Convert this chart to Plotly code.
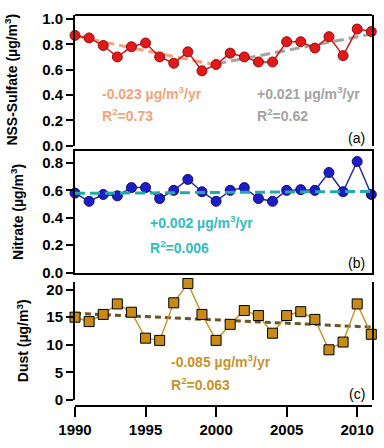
import plotly.graph_objects as go

years = list(range(1990, 2012))

sulfate = [0.87, 0.85, 0.79, 0.70, 0.78, 0.81, 0.70, 0.65, 0.74, 0.59, 0.64,
           0.73, 0.70, 0.66, 0.66, 0.82, 0.82, 0.77, 0.86, 0.71, 0.92, 0.90]
nitrate = [0.58, 0.52, 0.57, 0.56, 0.62, 0.62, 0.54, 0.60, 0.68, 0.59, 0.52,
           0.60, 0.62, 0.54, 0.52, 0.60, 0.605, 0.60, 0.73, 0.59, 0.81, 0.57]
dust = [15.0, 14.2, 15.5, 17.4, 15.9, 11.2, 10.8, 17.6, 21.1, 15.5, 10.8,
        13.7, 16.2, 15.3, 12.1, 15.3, 16.0, 14.6, 9.1, 10.5, 17.4, 11.9]

# trend line end points
trend_a1_x = [1990, 2000]
trend_a1_y = [0.865, 0.635]
trend_a2_x = [2000, 2011]
trend_a2_y = [0.645, 0.88]
trend_b_x = [1990, 2011]
trend_b_y = [0.578, 0.592]
trend_c_x = [1990, 2011]
trend_c_y = [15.7, 13.2]

FONT = "Liberation Sans, Arial, sans-serif"

fig = go.Figure()

# (a) sulfate
fig.add_trace(go.Scatter(x=trend_a1_x, y=trend_a1_y, mode="lines",
                         line=dict(color="#f5a27a", width=3, dash="10px,5px"),
                         xaxis="x", yaxis="y"))
fig.add_trace(go.Scatter(x=trend_a2_x, y=trend_a2_y, mode="lines",
                         line=dict(color="#a3a3a3", width=3, dash="10px,5px"),
                         xaxis="x", yaxis="y"))
fig.add_trace(go.Scatter(x=years, y=sulfate, mode="lines+markers", cliponaxis=False,
                         line=dict(color="#d41414", width=1.5),
                         marker=dict(symbol="circle", size=10, color="#e41818",
                                     line=dict(color="#901010", width=1)),
                         xaxis="x", yaxis="y"))

# (b) nitrate
fig.add_trace(go.Scatter(x=years, y=nitrate, mode="lines+markers", cliponaxis=False,
                         line=dict(color="#2828a8", width=1.5),
                         marker=dict(symbol="circle", size=10, color="#1c1cc8",
                                     line=dict(color="#101070", width=1)),
                         xaxis="x2", yaxis="y2"))
fig.add_trace(go.Scatter(x=trend_b_x, y=trend_b_y, mode="lines",
                         line=dict(color="#24a8a8", width=3, dash="10px,5px"),
                         xaxis="x2", yaxis="y2"))

# (c) dust
fig.add_trace(go.Scatter(x=trend_c_x, y=trend_c_y, mode="lines",
                         line=dict(color="#6b5522", width=3, dash="6px,4px"),
                         xaxis="x3", yaxis="y3"))
fig.add_trace(go.Scatter(x=years, y=dust, mode="lines+markers", cliponaxis=False,
                         line=dict(color="#c9962e", width=1.5),
                         marker=dict(symbol="square", size=10, color="#c98a16",
                                     line=dict(color="#000000", width=1)),
                         xaxis="x3", yaxis="y3"))

xr = [1990, 2011.05]
tickfont = dict(family=FONT, size=15, color="black", weight="bold")
yax = dict(showline=True, linecolor="black", linewidth=2, mirror=True,
           ticks="outside", ticklen=7, tickwidth=2, tickcolor="black",
           tickfont=tickfont, showgrid=False, zeroline=False)

fig.update_layout(
    width=384, height=448,
    margin=dict(l=75, r=10, t=11, b=41),
    paper_bgcolor="white", plot_bgcolor="white",
    showlegend=False,
    xaxis=dict(range=xr, domain=[0, 1], anchor="free", position=1.0, side="top",
               showline=True, linecolor="black", linewidth=2,
               showticklabels=False, ticks="", showgrid=False, zeroline=False),
    yaxis=dict(yax, range=[0, 1.031], domain=[0.666, 1.0], anchor="x",
               tickvals=[0, 0.2, 0.4, 0.6, 0.8, 1.0], tickformat=".1f"),
    xaxis2=dict(range=xr, domain=[0, 1], anchor="y2", matches="x",
                showline=True, linecolor="black", linewidth=2, mirror=True,
                showticklabels=False, ticks="", showgrid=False, zeroline=False),
    yaxis2=dict(yax, range=[0, 0.885], domain=[0.341, 0.6515], anchor="x2",
                tickvals=[0, 0.2, 0.4, 0.6, 0.8], tickformat=".1f"),
    xaxis3=dict(range=xr, domain=[0, 1], anchor="free", position=0, matches="x",
                showline=True, linecolor="black", linewidth=2,
                ticks="outside", ticklen=10, tickwidth=2, tickcolor="black",
                tickvals=[1990, 1995, 2000, 2005, 2010], tickfont=tickfont,
                showgrid=False, zeroline=False),
    yaxis3=dict(yax, range=[0, 21.43], domain=[0.0152, 0.318], anchor="x3",
                tickvals=[0, 5, 10, 15, 20]),
)


def px_x(px):
    return (px - 75) / 299


def px_y(py):
    return (407 - py) / 396


anns = [
    # y titles
    ("NSS-Sulfate (µg/m<sup>3</sup>)", 11, 76, "black", -90, "center", 14),
    ("Nitrate (µg/m<sup>3</sup>)", 17, 210, "black", -90, "center", 14),
    ("Dust (µg/m<sup>3</sup>)", 22, 341, "black", -90, "center", 14),
    # trend texts
    ("-0.023 µg/m<sup>3</sup>/yr", 100, 90, "#f5a27a", 0, "left", 14),
    ("R<sup>2</sup>=0.73", 100, 112, "#f5a27a", 0, "left", 14),
    ("+0.021 µg/m<sup>3</sup>/yr", 256, 90, "#a3a3a3", 0, "left", 14),
    ("R<sup>2</sup>=0.62", 256, 112, "#a3a3a3", 0, "left", 14),
    ("+0.002 µg/m<sup>3</sup>/yr", 148, 221, "#33bcbc", 0, "left", 14),
    ("R<sup>2</sup>=0.006", 148, 246, "#33bcbc", 0, "left", 14),
    ("-0.085 µg/m<sup>3</sup>/yr", 170, 361, "#c9922c", 0, "left", 14),
    ("R<sup>2</sup>=0.063", 170, 385, "#c9922c", 0, "left", 14),
]
for text, x, y, color, angle, align, size in anns:
    fig.add_annotation(text=text, xref="paper", yref="paper",
                       x=px_x(x), y=px_y(y), xanchor=align, yanchor="middle",
                       textangle=angle, showarrow=False,
                       font=dict(family=FONT, size=size, color=color, weight="bold"))

for lab, y in [("(a)", 136), ("(b)", 262), ("(c)", 395)]:
    fig.add_annotation(text=lab, xref="paper", yref="paper",
                       x=px_x(369), y=px_y(y), xanchor="right", yanchor="middle",
                       showarrow=False, font=dict(family=FONT, size=14, color="black"))

fig.write_html("out.html", config={"displayModeBar": False},
               post_script="document.body.style.margin='0';")
